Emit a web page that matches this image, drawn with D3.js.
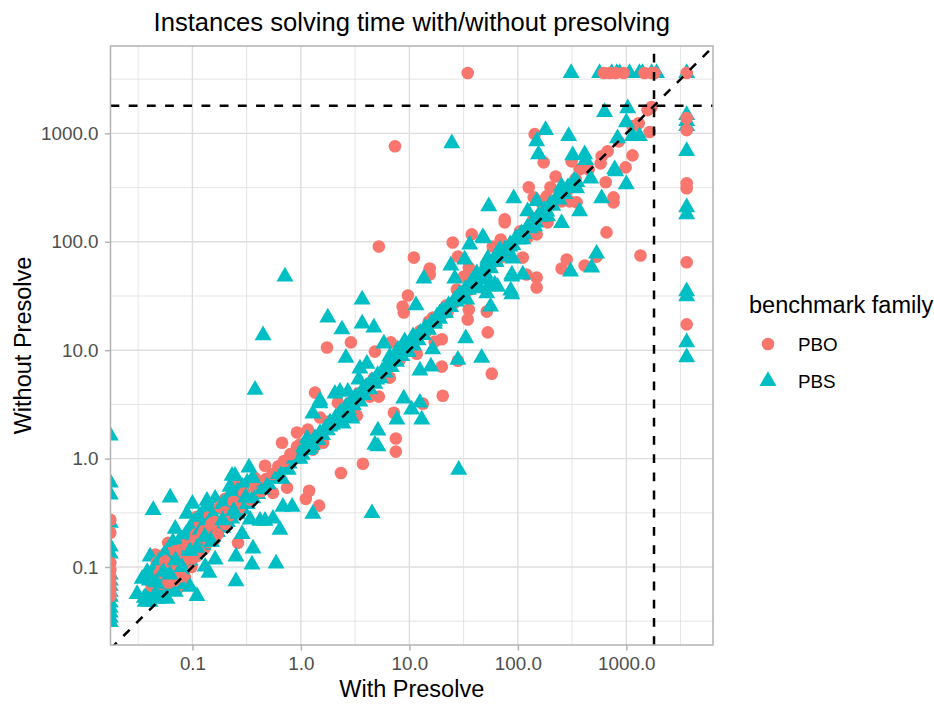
<!DOCTYPE html>
<html>
<head>
<meta charset="utf-8">
<script src="https://cdn.jsdelivr.net/npm/d3@7"></script>
<style>
    html, body { margin: 0; padding: 0; background: #fff; }
    text { font-family: "Liberation Sans", Arial, sans-serif; }
</style>
</head>
<body>
<div id="chart"></div>
<script>
const majorTicks = [0.1, 1, 10, 100, 1000];
const minorTicks = [0.0316, 0.316, 3.16, 31.6, 316, 3160];
const tickLabels = ["0.1", "1.0", "10.0", "100.0", "1000.0"];
const families = ["PBO", "PBS"];
const timeout = 1800;

// [with presolve, without presolve].
// The lists are split only so they can be painted in layers like the original.
const pbsEdges = [
    [310,3600],[567,3600],[733,3600],[815,3600],[868,3600],[1070,3600],[1320,3600],[1410,3600],[1710,3600],[1900,3600],
    [3600,3600],[3600,1475],[3600,1298],[3600,1167],[3600,686],[3600,208],[3600,179],[3600,34.9],[3600,31.4],[3600,11.8],[3600,8.6],
    [0.0175,1.63],[0.0175,0.6],[0.0175,0.465],[0.0175,0.255],[0.0175,0.154],[0.0175,0.133],[0.0175,0.085],[0.0175,0.075],
    [0.0175,0.067],[0.0175,0.059],[0.0175,0.053],[0.0175,0.047],[0.0175,0.042],[0.0175,0.038],[0.0175,0.034],[0.0175,0.031]
];

const pbo = [
    [143,984],[173,540],[223,400],[126,318],[200,318],[140,257],[159,236],[184,262],[253,236],[300,236],[348,231],[75.7,151],[75.7,161],
    [69.5,105],[58.7,90.5],[72.5,73],[111,71.5],[120,49.9],[149,46.8],[149,37.9],[253,56.7],[282,68.7],[413,60.4],[532,73],[657,122],
    [1350,74.7],[762,257],[762,231],[645,354],[985,486],[1140,627],[672,683],[592,615],[580,529],[449,466],[371,466],[313,552],[850,844],
    [1140,1170],[1300,1240],[1640,1030],[1570,1640],[1710,1750],[188,151],[159,172],[149,117],[123,110],
    [620,3600],[701,3600],[797,3600],[945,3600],[1470,3600],[1710,3600],[1820,3600],[34.5,3600],
    [3600,3600],[3600,1383],[3600,1071],[3600,347],[3600,312],[3600,64.7],[3600,17.3],
    [7.37,760],[5.23,90.5],[11,71.5],[15.4,56.7],[15.4,49.9],[9.7,31.9],[8.67,25.3],[8.88,22.3],[25.1,98.5],[37.6,117],[28,73],[31.8,47.8],
    [35.3,57.9],[27.4,36.3],[30.4,30.6],[22.6,22.7],[35.3,23.7],[34.5,19.2],[51.7,22.7],[52.8,14.6],[15.1,18.4],[19.9,12.6],[17.1,12],
    [1.74,10.6],[2.89,11.8],[4.81,9.7],[6.75,11.8],[11.7,9.28],[8.16,8.16],[28,8],[19.9,7.05],[57.5,6.07],[20.3,3.8],[13.3,3.21],[7.2,2.65],
    [7.5,1.53],[7.5,1.16],[3.73,0.895],[2.34,0.736],[1.35,4.06],[5.23,3.73],[6.6,5.58],[4.14,4.81],[4.32,3.73],[2.19,3.28],[3.28,2.49],
    [1.5,2.39],[1.97,2.15],[2.83,3.28],[1.16,1.85],[0.92,1.74],[0.67,1.4],[1.6,1.4],[1.29,1.21],[0.92,1.29],[0.793,0.976],[0.683,0.84],
    [0.98,1.35],[0.467,0.86],[0.378,0.66],[0.258,0.6],[0.745,0.54],[0.553,0.484],[1.19,0.505],[1.11,0.425],[1.47,0.368],[0.2,0.425],
    [0.263,0.167],[0.125,0.235],[0.0915,0.19],[0.11,0.291],[0.0454,0.13],[0.0597,0.167],[0.0738,0.0642],[0.0855,0.079],
    [19,20],[26.2,27.5],[36,36.3],[44.5,49.9],[61.3,65.8],[84,88.6],[104,117],
    [0.0175,0.273],[0.0175,0.207],[0.0175,0.109],[0.0175,0.094],[0.0175,0.081],[0.0175,0.07],[0.0175,0.0616],[0.0175,0.054]
];

const pboBandUpper = [
    [1.1,1.3],[1.3,1.6],[1.5,1.55],[1.8,2.2],[2.1,2.2],[2.5,3],[2.9,3],[3.4,4],[4,4.2],[4.7,5.5],[5.5,5.8],[6.5,7.5],[7.5,8],[8.8,10.5],[10.5,11],[12.5,15],
    [14,14.5],[16.5,20],[19,20],[22,26],[25,27],[30,35],[34,36],[40,48],[46,48],[55,65],[65,68],[75,90],[88,92],[105,125],[120,125],[140,165],[160,170],
    [190,220],[215,225],[250,290],[285,295],[340,380]
];

const pbs = [
    [630,1640],[1030,1780],[1000,1320],[830,940],[1140,984],[1320,984],[180,1120],[149,880],[155,670],[294,984],[320,655],[413,670],[422,590],
    [780,486],[797,466],[1000,354],[592,262],[253,339],[348,325],[469,400],[371,199],[91.5,262],[53.9,222],[123,199],[149,247],[188,179],
    [253,155],[143,145],[48.5,112],[111,110],[84,94],[68,88.6],[52.8,73],[90,73],[63.8,79.5],[532,81],[479,60.4],[306,55.5],[111,52],[88,49.9],
    [55,42],[46.4,46.8],[61.3,42],[86,37],[0.713,49.9],[0.448,14.3],[0.378,4.5],[24.6,844],[28.5,0.82],[4.52,0.327],
    [3.67,30.6],[1.77,20.9],[3.67,18.4],[2.39,16.2],[4.71,16.9],[5.82,12],[2.6,8.88],[4.06,7.82],[3.5,7.05],[3.42,5.58],[2.29,4.32],[2.06,4.14],
    [2.71,4.32],[1.5,3.57],[1.29,2.71],[8.88,3.73],[12.5,3.42],[10.5,2.95],[13,2.39],[7.67,2.39],[5.13,1.89],[4.81,1.4],[5.13,1.35],[12.5,6.75],
    [15.8,7.37],[28,8.5],[46.4,8.88],[33.1,13.4],[16.4,10.6],[11.5,27],[13.6,47.8],[24.1,63],[32.4,71.5],[36,98.5],[47.5,115],[26.2,47.8],
    [41.8,53.3],[52.8,70],[88,52],[88,34.1],[56,26.4],[65,40],[51.7,34.8],[44.5,38.7],[33.8,30.6],[19,22.7],[17.1,19.2],[11.7,13.4],[10.8,11.8],
    [9.7,10],[6.34,7.82],[5.58,6.6],[5,5.58],[4.14,4.81],[3.5,3.5],[2.95,2.44],[2.44,2.19],[1.85,2.06],[1.43,1.56],[1.21,1.29],[0.98,1.04],
    [0.765,0.82],[0.67,0.68],[21.2,23.7],[14.8,16.2],[6.6,9.1],[7.82,10.6],[9.05,12.6],[10.8,14],
    [0.0435,0.35],[0.0623,0.455],[0.1,0.4],[0.089,0.323],[0.0695,0.235],[0.0772,0.19],[0.136,0.425],[0.162,0.445],[0.232,0.725],[0.247,0.725],
    [0.332,0.86],[0.222,0.572],[0.258,0.417],[0.34,0.285],[0.42,0.278],[0.467,0.278],[0.553,0.291],[0.641,0.23],[0.287,0.21],[0.683,0.375],
    [0.83,0.375],[0.362,0.154],[0.252,0.13],[0.354,0.11],[0.59,0.112],[0.142,0.092],[0.252,0.077],[0.11,0.0563],[0.0309,0.0588],[0.0383,0.0937],
    [0.0407,0.13],[1.29,0.323],[1.5,3.37],[1.14,1.6],[0.0344,0.081],[0.0367,0.0497],[0.0407,0.0497],[0.0474,0.0529],[0.0583,0.0529],
    [0.0407,0.0614],[0.0454,0.0683],[0.0505,0.0552],[0.0559,0.0683],[0.0695,0.0614],[0.0772,0.0727],[0.095,0.0683],[0.131,0.105],[0.162,0.122]
];

// Crowded lower-left cluster: painted alternately so the marks chop each other up.
const pbsCluster = [
    [0.036,0.052],[0.04,0.06],[0.04,0.075],[0.045,0.055],[0.045,0.085],[0.045,0.1],[0.05,0.062],[0.05,0.08],[0.05,0.115],[0.055,0.07],[0.055,0.095],
    [0.055,0.13],[0.06,0.075],[0.06,0.11],[0.06,0.145],[0.066,0.08],[0.066,0.1],[0.066,0.13],[0.066,0.17],[0.072,0.09],[0.072,0.12],[0.072,0.155],
    [0.08,0.095],[0.08,0.13],[0.08,0.18],[0.087,0.105],[0.087,0.15],[0.087,0.2],[0.095,0.115],[0.095,0.17],[0.095,0.23],[0.105,0.13],[0.105,0.19],
    [0.105,0.26],[0.115,0.145],[0.115,0.21],[0.115,0.29],[0.125,0.16],[0.125,0.24],[0.125,0.32],[0.14,0.175],[0.14,0.27],[0.14,0.36],[0.155,0.19],
    [0.155,0.3],[0.17,0.21],[0.17,0.34],[0.19,0.23],[0.19,0.38],[0.21,0.26],[0.21,0.42],[0.23,0.28],[0.23,0.46],[0.26,0.31],[0.26,0.5],[0.29,0.34],
    [0.29,0.55],[0.32,0.38],[0.32,0.6],[0.36,0.43],[0.36,0.66],[0.4,0.47],[0.44,0.52],[0.5,0.58],[0.56,0.65],[0.62,0.72],[0.7,0.8],[0.78,0.9],[0.87,1]
];

const pboCluster = [
    [0.042,0.067],[0.047,0.078],[0.047,0.11],[0.052,0.07],[0.052,0.1],[0.057,0.085],[0.057,0.135],[0.063,0.09],[0.063,0.12],[0.068,0.075],[0.068,0.15],
    [0.075,0.1],[0.075,0.135],[0.082,0.085],[0.082,0.165],[0.09,0.12],[0.09,0.18],[0.098,0.1],[0.098,0.14],[0.108,0.125],[0.108,0.2],[0.118,0.17],
    [0.118,0.25],[0.13,0.15],[0.13,0.22],[0.145,0.2],[0.145,0.3],[0.16,0.18],[0.16,0.26],[0.18,0.24],[0.18,0.36],[0.2,0.25],[0.2,0.32],[0.22,0.3],[0.24,0.4],
    [0.27,0.35],[0.3,0.48],[0.34,0.42],[0.38,0.55],[0.43,0.5],[0.48,0.65],[0.55,0.72],[0.62,0.85],[0.7,0.95],[0.8,1.1]
];

// Last cluster marks painted, then a few teal ones over them
const pboClusterTop = [
    [0.05,0.088],[0.056,0.112],[0.06,0.072],[0.066,0.1],[0.07,0.14],[0.078,0.082],[0.084,0.115],[0.09,0.155],[0.1,0.12],[0.105,0.175],[0.115,0.14],
    [0.125,0.2],[0.14,0.17],[0.15,0.25],[0.17,0.2]
];

const pbsClusterTop = [
    [0.046,0.072],[0.054,0.09],[0.062,0.085],[0.07,0.115],[0.08,0.1],[0.095,0.14],[0.11,0.15],[0.13,0.19],[0.15,0.17],[0.19,0.27],[0.24,0.33],[0.31,0.44]
];

// Ribbon on the diagonal, teal on top
const pbsRibbon = [
    [0.98,1.12],[1.03,1.08],[1.08,1.25],[1.15,1.2],[1.2,1.4],[1.28,1.33],[1.35,1.55],[1.42,1.48],[1.5,1.72],[1.58,1.65],[1.68,1.9],[1.75,1.82],[1.85,2.15],
    [1.95,2.05],[2.1,2.4],[2.2,2.25],[2.3,2.65],[2.45,2.5],[2.6,3],[2.75,2.8],[2.9,3.3],[3.05,3.1],[3.2,3.7],[3.4,3.45],[3.6,4.1],[3.8,3.85],[4,4.6],
    [4.3,4.35],[4.5,5.2],[4.8,4.9],[5.1,5.9],[5.4,5.5],[5.7,6.4],[6,6.2],[6.4,7.2],[6.8,7],[7.2,8.1],[7.6,7.8],[8,9],[8.5,8.8],[9,10.2],[9.6,9.9],[10,11.5],
    [10.7,11],[11.2,12.8],[12,12.3],[12.6,14.5],[13.4,13.8],[14,16.2],[15,15.4],[16,18],[17,17.5],[18,20.5],[19,19.5],[20,23],[21.5,22],[23,26],[24,25],
    [26,29],[27,28],[29,33],[31,32],[33,37],[35,36],[37,42],[39,40],[42,47],[44,45.5],[47,53],[50,51],[53,60],[56,57],[60,68],[63,65],[67,76],[71,73],[76,85],
    [80,82],[85,95],[90,93],[96,108],[102,105],[108,120],[115,118],[122,135],[130,133],[138,155],[146,150],[155,175],[165,170],[175,195],[185,190],
    [198,220],[210,215],[225,250],[240,245],[255,285],[270,275],[290,320],[310,315],[330,365],[350,355]
];

function chart() {
    const width = 934;
    const height = 705;
    const panel = {left: 110.5, right: 713, top: 46, bottom: 645};

    const x = d3.scaleLog().domain([0.01757, 6295]).range([panel.left, panel.right]);
    const y = d3.scaleLog().domain([0.01907, 6397]).range([panel.bottom, panel.top]);
    const color = d3.scaleOrdinal().domain(families).range(["#F8766D", "#00BFC4"]);
    const shape = d3.scaleOrdinal().domain(families).range([d3.symbolCircle, d3.symbolTriangle]);
    const marker = fam => d3.symbol().type(shape(fam)).size(125)();

    const svg = d3.create("svg")
        .attr("width", width)
        .attr("height", height)
        .attr("viewBox", [0, 0, width, height])
        .style("display", "block");

    svg.append("defs").append("clipPath")
        .attr("id", "panel-clip")
        .append("rect")
        .attr("x", panel.left)
        .attr("y", panel.top)
        .attr("width", panel.right - panel.left)
        .attr("height", panel.bottom - panel.top);

    // Grid, minor under major
    const grid = svg.append("g").attr("stroke", "#DEDEDE");
    [[minorTicks, 0.8], [majorTicks, 1.4]].forEach(([vals, w]) => {
        grid.append("g").attr("stroke-width", w).selectAll("line").data(vals).join("line")
            .attr("x1", d => x(d)).attr("x2", d => x(d))
            .attr("y1", panel.top).attr("y2", panel.bottom);
        grid.append("g").attr("stroke-width", w).selectAll("line").data(vals).join("line")
            .attr("y1", d => y(d)).attr("y2", d => y(d))
            .attr("x1", panel.left).attr("x2", panel.right);
    });

    const plot = svg.append("g").attr("clip-path", "url(#panel-clip)");

    // triangles in pbs were read at mid height, nudge down to the centroid
    const drawPoints = (rows, fam, nudge = 0) => {
        plot.append("g")
            .attr("fill", color(fam))
            .selectAll("path")
            .data(rows)
            .join("path")
            .attr("transform", d => `translate(${x(d[0])},${y(d[1]) + nudge})`)
            .attr("d", marker(fam));
    };
    drawPoints(pbsEdges, "PBS");
    drawPoints(pbo, "PBO");
    drawPoints(pboBandUpper, "PBO");
    drawPoints(pbs, "PBS", 2);
    drawPoints(pbsRibbon, "PBS");

    // Alternate the two cluster lists, proportionally as the PBS list is longer
    const cluster = [];
    pbsCluster.forEach((d, i) => {
        cluster.push({value: d, fam: "PBS"});
        const j = Math.floor(i * pboCluster.length / pbsCluster.length);
        const next = Math.floor((i + 1) * pboCluster.length / pbsCluster.length);
        if (next > j) cluster.push({value: pboCluster[j], fam: "PBO"});
    });
    plot.append("g")
        .selectAll("path")
        .data(cluster)
        .join("path")
        .attr("transform", d => `translate(${x(d.value[0])},${y(d.value[1])})`)
        .attr("d", d => marker(d.fam))
        .attr("fill", d => color(d.fam));

    drawPoints(pboClusterTop, "PBO");
    drawPoints(pbsClusterTop, "PBS");

    // Reference lines: the diagonal and the timeout
    const dashed = plot.append("g")
        .attr("stroke", "#000")
        .attr("stroke-width", 2.5)
        .attr("stroke-dasharray", "8.8 9.4")
        .attr("fill", "none");
    dashed.append("line")
        .attr("x1", x(0.01757)).attr("y1", y(0.01757))
        .attr("x2", x(6295)).attr("y2", y(6295));
    dashed.append("line")
        .attr("x1", panel.left).attr("x2", panel.right)
        .attr("y1", y(timeout)).attr("y2", y(timeout));
    dashed.append("line")
        .attr("x1", x(timeout)).attr("x2", x(timeout))
        .attr("y1", panel.bottom).attr("y2", panel.top);

    svg.append("rect")
        .attr("x", panel.left)
        .attr("y", panel.top)
        .attr("width", panel.right - panel.left)
        .attr("height", panel.bottom - panel.top)
        .attr("fill", "none")
        .attr("stroke", "#B3B3B3")
        .attr("stroke-width", 1.5);

    // Axes
    const xAxis = svg.append("g")
        .attr("transform", `translate(0,${panel.bottom})`)
        .call(d3.axisBottom(x).tickValues(majorTicks).tickFormat((d, i) => tickLabels[i]).tickSize(5.5).tickPadding(6));
    const yAxis = svg.append("g")
        .attr("transform", `translate(${panel.left},0)`)
        .call(d3.axisLeft(y).tickValues(majorTicks).tickFormat((d, i) => tickLabels[i]).tickSize(5.5).tickPadding(6.5));
    [xAxis, yAxis].forEach(a => {
        a.select(".domain").remove();
        a.selectAll("line").attr("stroke", "#B3B3B3").attr("stroke-width", 1.5);
        a.selectAll("text").attr("fill", "#4D4D4D").style("font-size", "18.8px").style("font-family", "'Liberation Sans'");
    });

    svg.append("text")
        .attr("x", (panel.left + panel.right) / 2)
        .attr("y", 31)
        .attr("text-anchor", "middle")
        .attr("font-size", 25.6)
        .text("Instances solving time with/without presolving");
    svg.append("text")
        .attr("x", (panel.left + panel.right) / 2)
        .attr("y", 697)
        .attr("text-anchor", "middle")
        .attr("font-size", 23.5)
        .text("With Presolve");
    svg.append("text")
        .attr("transform", `translate(31,${(panel.top + panel.bottom) / 2}) rotate(-90)`)
        .attr("text-anchor", "middle")
        .attr("font-size", 23.5)
        .text("Without Presolve");

    // Legend
    const legend = svg.append("g");
    legend.append("text")
        .attr("x", 749)
        .attr("y", 313)
        .attr("font-size", 23.5)
        .text("benchmark family");
    const legendRows = [344, 381];
    families.forEach((fam, i) => {
        legend.append("path")
            .attr("transform", `translate(768,${legendRows[i]})`)
            .attr("d", marker(fam))
            .attr("fill", color(fam));
        legend.append("text")
            .attr("x", 798)
            .attr("y", legendRows[i] + 7)
            .attr("font-size", 18.8)
            .text(fam);
    });

    return svg.node();
}

document.getElementById("chart").appendChild(chart());
</script>
</body>
</html>
